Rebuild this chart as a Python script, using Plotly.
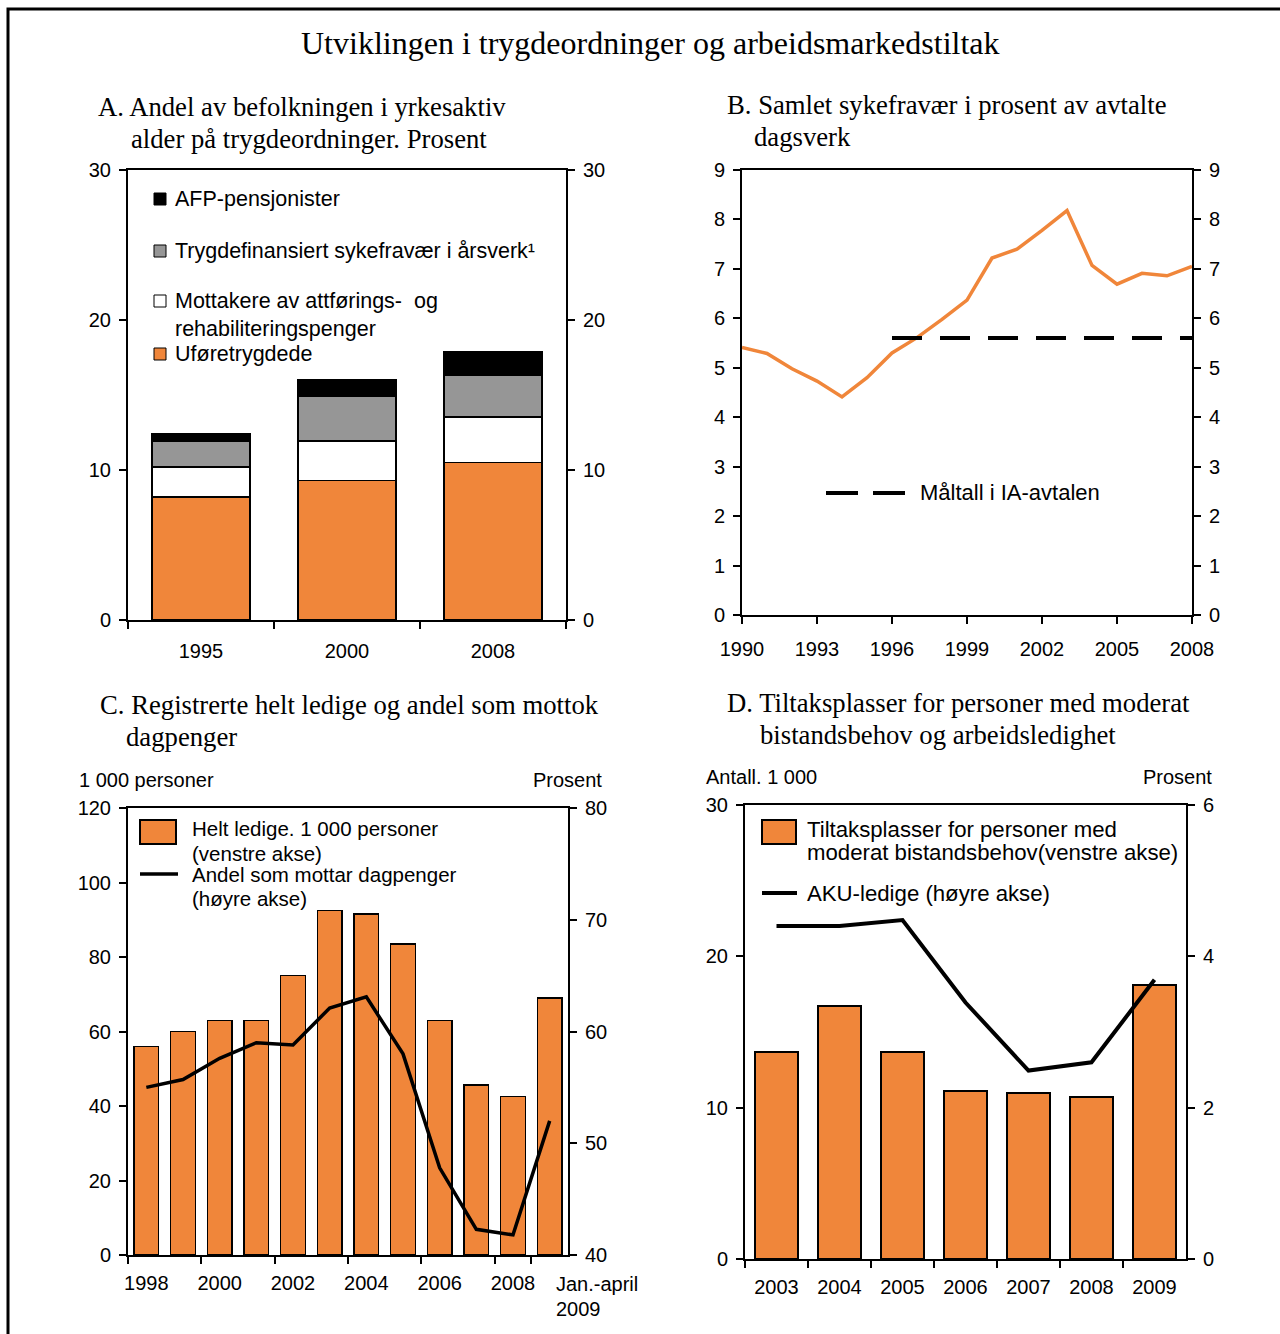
import plotly.graph_objects as go

W, H = 1280, 1334
ORANGE = '#F0863A'
GRAY = '#969696'
SANS = 'Liberation Sans, Arial, sans-serif'
SERIF = 'Liberation Serif, Times New Roman, serif'

# ---------------- Data ----------------
# Panel A
a_years = ['1995', '2000', '2008']
a_ufore = [8.2, 9.3, 10.5]
a_attf = [2.0, 2.65, 3.05]
a_syke = [1.7, 3.0, 2.75]
a_afp = [0.5, 1.07, 1.6]

# Panel B
b_years = list(range(1990, 2009))
b_syke = [5.41, 5.29, 4.98, 4.73, 4.41, 4.80, 5.30, 5.61, 5.98, 6.37,
          7.22, 7.40, 7.78, 8.18, 7.07, 6.69, 6.91, 6.86, 7.05]
b_target_years = [1996, 2008]
b_target = [5.6, 5.6]

# Panel C
c_cats = ['1998', '1999', '2000', '2001', '2002', '2003', '2004', '2005',
          '2006', '2007', '2008', '2009']
c_ledige = [56, 60, 63, 63, 75, 92.5, 91.5, 83.5, 63, 45.6, 42.5, 69]
c_andel = [55.0, 55.7, 57.6, 59.0, 58.8, 62.1, 63.1, 58.0, 47.8, 42.3, 41.8, 52.0]
c_tickvals = ['1998', '2000', '2002', '2004', '2006', '2008']
c_last_label = ['Jan.-april', '2009']

# Panel D
d_years = ['2003', '2004', '2005', '2006', '2007', '2008', '2009']
d_tiltak = [13.7, 16.7, 13.7, 11.1, 11.0, 10.7, 18.1]
d_aku = [4.40, 4.40, 4.48, 3.39, 2.49, 2.60, 3.69]


def X(px):
    return px / W


def Y(py):
    return 1 - py / H


TICKFONT = dict(family=SANS, size=20, color='black')

fig = go.Figure()

# ---------- Panel A ----------
bar_line = dict(color='black', width=1.5)
for vals, col in [(a_ufore, ORANGE), (a_attf, 'white'), (a_syke, GRAY), (a_afp, 'black')]:
    fig.add_trace(go.Bar(x=a_years, y=vals, marker=dict(color=col, line=bar_line),
                         xaxis='x', yaxis='y', showlegend=False))
a_tot = [sum(v) for v in zip(a_ufore, a_attf, a_syke, a_afp)]
fig.add_trace(go.Scatter(x=a_years, y=a_tot, mode='markers', marker=dict(opacity=0),
                         xaxis='x', yaxis='y2', showlegend=False, hoverinfo='skip'))

# ---------- Panel B ----------
fig.add_trace(go.Scatter(x=b_years, y=b_syke, mode='lines',
                         line=dict(color=ORANGE, width=3.5),
                         xaxis='x2', yaxis='y3', showlegend=False))
fig.add_trace(go.Scatter(x=b_target_years, y=b_target, mode='lines',
                         line=dict(color='black', width=4, dash='30px,18px'),
                         xaxis='x2', yaxis='y3', showlegend=False))
fig.add_trace(go.Scatter(x=b_years, y=b_syke, mode='markers', marker=dict(opacity=0),
                         xaxis='x2', yaxis='y4', showlegend=False, hoverinfo='skip'))

# ---------- Panel C ----------
fig.add_trace(go.Bar(x=c_cats, y=c_ledige, marker=dict(color=ORANGE, line=bar_line),
                     xaxis='x3', yaxis='y5', showlegend=False))
fig.add_trace(go.Scatter(x=c_cats, y=c_andel, mode='lines',
                         line=dict(color='black', width=3.5),
                         xaxis='x3', yaxis='y6', showlegend=False))

# ---------- Panel D ----------
fig.add_trace(go.Bar(x=d_years, y=d_tiltak, marker=dict(color=ORANGE, line=dict(color='black', width=2)),
                     xaxis='x4', yaxis='y7', showlegend=False))
fig.add_trace(go.Scatter(x=d_years, y=d_aku, mode='lines',
                         line=dict(color='black', width=4),
                         xaxis='x4', yaxis='y8', showlegend=False))


def xax(domain, anchor, **kw):
    d = dict(domain=domain, anchor=anchor, showline=True, linewidth=2, linecolor='black',
             mirror=True, ticks='outside', ticklen=7, tickwidth=2, tickcolor='black',
             showgrid=False, zeroline=False, tickfont=TICKFONT, ticklabelstandoff=8,
             tickangle=0, automargin=False, fixedrange=True)
    d.update(kw)
    return d


def yax(domain, anchor, rng, dtick, side='left', overlaying=None):
    d = dict(anchor=anchor, range=rng, dtick=dtick, tick0=0, side=side,
             showline=True, linewidth=2, linecolor='black',
             ticks='outside', ticklen=7, tickwidth=2, tickcolor='black',
             showgrid=False, zeroline=False, tickfont=TICKFONT, ticklabelstandoff=4,
             automargin=False, fixedrange=True)
    if overlaying:
        d['overlaying'] = overlaying
    else:
        d['domain'] = domain
    return d


dA_x = [X(128), X(566)]
dA_y = [Y(620), Y(170)]
dB_x = [X(742), X(1192)]
dB_y = [Y(615), Y(170)]
dC_x = [X(128), X(568)]
dC_y = [Y(1255), Y(808)]
dD_x = [X(745), X(1186)]
dD_y = [Y(1259), Y(805)]

fig.update_layout(
    width=W, height=H, autosize=False,
    margin=dict(l=0, r=0, t=0, b=0, pad=0, autoexpand=False),
    paper_bgcolor='white', plot_bgcolor='white',
    barmode='stack', bargap=0.33,
    xaxis=xax(dA_x, 'y', type='category', tickson='boundaries', ticklabelstandoff=12),
    yaxis=yax(dA_y, 'x', [0, 30], 10),
    yaxis2=yax(None, 'x', [0, 30], 10, side='right', overlaying='y'),
    xaxis2=xax(dB_x, 'y3', range=[1990, 2008], dtick=3, tick0=1990),
    yaxis3=yax(dB_y, 'x2', [0, 9], 1),
    yaxis4=yax(None, 'x2', [0, 9], 1, side='right', overlaying='y3'),
    xaxis3=xax(dC_x, 'y5', type='category', tickson='boundaries',
               range=[-0.5, len(c_cats) - 0.5],
               tickmode='array', tickvals=c_tickvals, ticklabelstandoff=9),
    yaxis5=yax(dC_y, 'x3', [0, 120], 20),
    yaxis6=yax(None, 'x3', [40, 80], 10, side='right', overlaying='y5'),
    xaxis4=xax(dD_x, 'y7', type='category', tickson='boundaries', ticklabelstandoff=9),
    yaxis7=yax(dD_y, 'x4', [0, 30], 10),
    yaxis8=yax(None, 'x4', [0, 6], 2, side='right', overlaying='y7'),
)

anns = []
shapes = []


def ann(text, x, y, size=20, family=SANS, xanchor='left', yanchor='middle', align='left'):
    anns.append(dict(text=text, x=X(x), y=Y(y), xref='paper', yref='paper',
                     xanchor=xanchor, yanchor=yanchor, align=align, showarrow=False,
                     font=dict(family=family, size=size, color='black')))


def rect(x0, y0, x1, y1, fill, lw=1.5):
    shapes.append(dict(type='rect', xref='paper', yref='paper', x0=X(x0), x1=X(x1),
                       y0=Y(y1), y1=Y(y0), fillcolor=fill, line=dict(color='black', width=lw)))


def hline(x0, x1, y, width=3.5, dash='solid'):
    shapes.append(dict(type='line', xref='paper', yref='paper', x0=X(x0), x1=X(x1),
                       y0=Y(y), y1=Y(y), line=dict(color='black', width=width, dash=dash)))


# outer frame
shapes.append(dict(type='rect', xref='paper', yref='paper', x0=X(8), x1=1.02, y0=-0.02, y1=Y(9),
                   line=dict(color='black', width=3), fillcolor='rgba(0,0,0,0)'))

# Titles
TS = 26.7
ann('Utviklingen i trygdeordninger og arbeidsmarkedstiltak', 650, 43, size=32, family=SERIF,
    xanchor='center')
ann('A. Andel av befolkningen i yrkesaktiv', 96, 107, size=TS, family=SERIF)
ann('alder på trygdeordninger. Prosent', 129, 139, size=TS, family=SERIF)
ann('B. Samlet sykefravær i prosent av avtalte', 725, 105, size=TS, family=SERIF)
ann('dagsverk', 752, 137, size=TS, family=SERIF)
ann('C. Registrerte helt ledige og andel som mottok', 98, 705, size=TS, family=SERIF)
ann('dagpenger', 124, 737, size=TS, family=SERIF)
ann('D. Tiltaksplasser for personer med moderat', 725, 703, size=TS, family=SERIF)
ann('bistandsbehov og arbeidsledighet', 758, 735, size=TS, family=SERIF)

# Panel A legend
LA = 21.5
rect(154, 193, 166, 205, 'black', 1)
ann('AFP-pensjonister', 173, 199, size=LA)
rect(154, 245, 166, 257, GRAY, 1)
ann('Trygdefinansiert sykefravær i årsverk¹', 173, 251, size=LA)
rect(154, 295, 166, 307, 'white', 1)
ann('Mottakere av attførings-  og', 173, 301, size=LA)
ann('rehabiliteringspenger', 173, 329, size=LA)
rect(154, 348, 166, 360, ORANGE, 1)
ann('Uføretrygdede', 173, 354, size=LA)

# Panel B legend
hline(826, 905, 493, width=4, dash='32px,15px')
ann('Måltall i IA-avtalen', 918, 493, size=22)

# Panel C axis labels + legend
LC = 20.5
ann('1 000 personer', 77, 780)
ann('Prosent', 604, 780, xanchor='right')
rect(140, 820, 176, 844, ORANGE, 2)
ann('Helt ledige. 1 000 personer', 190, 828, size=LC)
ann('(venstre akse)', 190, 853, size=LC)
hline(140, 178, 874, width=3.5)
ann('Andel som mottar dagpenger', 190, 874, size=LC)
ann('(høyre akse)', 190, 898, size=LC)
for i, (txt, py) in enumerate(zip(c_last_label, [1284, 1309])):
    anns.append(dict(text=txt, x=len(c_cats) - 1, y=Y(py), xref='x3', yref='paper',
                     xanchor='left', yanchor='middle', align='left', showarrow=False, xshift=4,
                     font=dict(family=SANS, size=20, color='black')))

# Panel D axis labels + legend
LD = 22.2
ann('Antall. 1 000', 704, 777)
ann('Prosent', 1214, 777, xanchor='right')
rect(762, 820, 796, 844, ORANGE, 2)
ann('Tiltaksplasser for personer med', 805, 829, size=LD)
ann('moderat bistandsbehov(venstre akse)', 805, 852, size=LD)
hline(762, 797, 893, width=4)
ann('AKU-ledige (høyre akse)', 805, 893, size=LD)

fig.update_layout(annotations=anns, shapes=shapes)

fig.write_html('out.html', config={'displayModeBar': False},
               post_script="document.body.style.margin='0';")
